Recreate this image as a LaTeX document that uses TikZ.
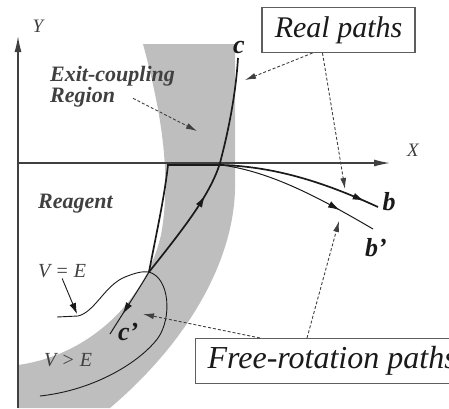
\documentclass[tikz,border=0pt]{standalone}
\usepackage{fontspec}
\setmainfont{Liberation Serif}
\usepackage{xcolor}
\usetikzlibrary{arrows.meta, positioning, calc, decorations.markings}
\definecolor{PlotInk}{HTML}{1A1A1A}
\definecolor{PlotGray}{HTML}{404040}
\definecolor{PlotBand}{HTML}{BEBEBE}
\definecolor{PlotFrame}{HTML}{5E5E5E}
\tikzset{
    % Axis line style
    axisline/.style={
        draw=PlotGray,
        line width=1.3pt,
        -{Latex[length=16pt,width=7pt]}
    },
    % Axis label
    axislabel/.style={
        text=PlotGray,
        font=\fontsize{19}{22}\selectfont\itshape,
        inner sep=1pt
    },
    % Region label
    regionlabel/.style={
        text=PlotGray,
        font=\fontsize{22}{19}\selectfont\bfseries\itshape,
        inner sep=1pt
    },
    % Path end label
    endlabel/.style={
        text=PlotInk,
        font=\fontsize{26}{30}\selectfont\bfseries\itshape,
        inner sep=1pt
    },
    % Potential label
    potlabel/.style={
        text=PlotGray,
        font=\fontsize{20}{24}\selectfont\itshape,
        inner sep=1pt
    },
    % Boxed callout
    callout/.style={
        rectangle,
        draw=PlotFrame,
        line width=1.1pt,
        fill=white,
        text=PlotInk,
        font=\fontsize{30}{34}\selectfont\itshape,
        minimum height=45pt,
        inner xsep=12pt
    },
    % Real path
    realpath/.style={
        draw=PlotInk,
        line width=1.7pt
    },
    % Free-rotation path
    freepath/.style={
        draw=PlotInk,
        line width=1pt
    },
    % Potential curve
    potline/.style={
        draw=PlotInk,
        line width=0.9pt
    },
    % Arrow along a path
    midarrow/.style={
        postaction={decorate},
        decoration={markings,
            mark=at position #1 with {\arrow{Latex[length=12pt,width=7pt]}}}
    },
    % Dashed pointer
    pointer/.style={
        draw=PlotGray,
        line width=0.9pt,
        dash pattern=on 3pt off 2pt,
        -{Latex[length=11pt,width=6pt]}
    },
    % Solid pointer
    solidpointer/.style={
        draw=PlotInk,
        line width=0.9pt,
        -{Latex[length=11pt,width=7pt]}
    }
}

\begin{document}
\begin{tikzpicture}[x=1pt, y=-1pt]
    \useasboundingbox (0,0) rectangle (449,408);
    \clip (0,0) rectangle (449,408);

    % Exit-coupling band
    \fill [PlotBand] (143,44) .. controls (158,100) and (173,170) .. (161,235)
        .. controls (146,300) and (90,355) .. (18,365) -- (18,408) -- (110,408)
        .. controls (190,340) and (233,260) .. (235,190) -- (235,44) -- cycle;

    % Axes
    \coordinate (origin) at (18,408);
    \coordinate (ytip) at (18,36);
    \coordinate (xstart) at (18,163);
    \coordinate (xtip) at (390,163);
    \draw [axisline] (origin) -- (ytip);
    \draw [axisline] (xstart) -- (xtip);
    \node (ylab) [axislabel] at (38,26) {Y};
    \node (xlab) [axislabel] at (413,150) {X};

    % Points on the paths
    \coordinate (turn) at (149,272);
    \coordinate (corner) at (168,165);
    \coordinate (split) at (222,165);
    \coordinate (xcross) at (220,163);
    \coordinate (ctop) at (238,58);
    \coordinate (bend) at (378,207);
    \coordinate (bpend) at (373,229);
    \coordinate (cpend) at (110,334);

    % Potential curve V = E
    \draw [potline] (57,317) -- (78,316) .. controls (95,312) and (105,285) .. (125,277)
        .. controls (135,273) and (142,271) .. (turn)
        .. controls (170,278) and (172,318) .. (158,338)
        .. controls (140,362) and (95,390) .. (40,396);

    % Real paths
    \draw [realpath, midarrow=0.955] (turn) .. controls (156,235) and (164,200) .. (corner)
        -- (split) .. controls (280,167) and (330,185) .. (bend);
    \draw [realpath, midarrow=0.4] (turn) .. controls (184,228) and (210,195) .. (xcross)
        .. controls (230,125) and (236,90) .. (ctop);

    % Free-rotation paths
    \draw [freepath, midarrow=0.77] (split) .. controls (270,172) and (315,195) .. (bpend);
    \draw [freepath, midarrow=0.68] (turn) .. controls (139,289) and (125,310) .. (cpend);

    % Labels
    \node (regionlab) [regionlabel, align=left, anchor=north west] at (49,65) {Exit-coupling\\Region};
    \node (reagentlab) [regionlabel, anchor=base west] at (37,208) {Reagent};
    \node (velab) [potlabel, anchor=base west] at (37,277) {V = E};
    \node (vglab) [potlabel, anchor=base west] at (43,366) {V > E};
    \node (clab) [endlabel, anchor=base] at (239,53) {c};
    \node (blab) [endlabel, anchor=base] at (389,210) {b};
    \node (bplab) [endlabel, anchor=base west] at (364,256) {b'};
    \node (cplab) [endlabel, anchor=base west] at (117,340) {c'};

    % Boxed captions
    \node (realbox) [callout, minimum width=153pt] at (338.5,30) {Real paths};
    \node (freebox) [callout, anchor=north west, font=\fontsize{32}{36}\selectfont\itshape] at (195,338) {Free-rotation paths};

    % Pointers
    \coordinate (bandmark) at (197,131);
    \coordinate (cmark) at (245,80);
    \coordinate (bmark) at (345,189);
    \coordinate (bpmark) at (339,221);
    \coordinate (cpmark) at (143,314);
    \coordinate (vemark) at (77,314);
    \draw [pointer] ([xshift=84pt, yshift=10pt]regionlab.south west) -- (bandmark);
    \draw [pointer] ([xshift=-26pt]realbox.south) -- (cmark);
    \draw [pointer] ([xshift=-16pt]realbox.south) -- (bmark);
    \draw [pointer] ([xshift=112pt]freebox.north west) -- (bpmark);
    \draw [pointer] ([xshift=65pt]freebox.north west) -- (cpmark);
    \draw [solidpointer] (velab.south) -- (vemark);
\end{tikzpicture}
\end{document}
